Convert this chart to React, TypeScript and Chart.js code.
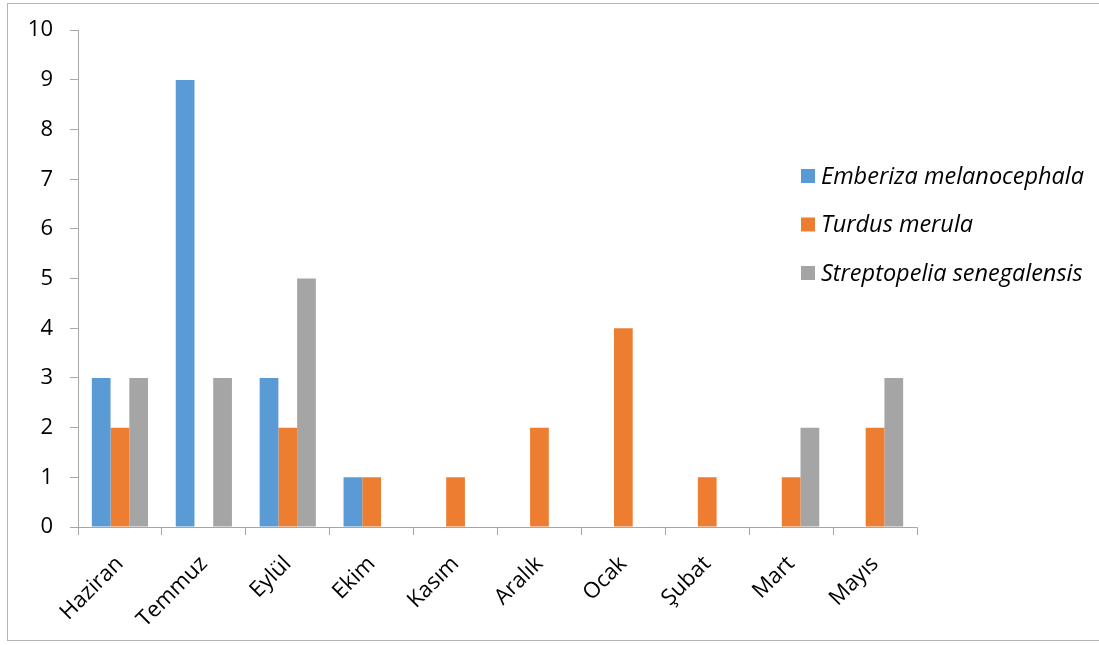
import React, { useEffect, useRef } from "react";
import { Chart, registerables } from "chart.js";

Chart.register(...registerables);

const months = ["Haziran", "Temmuz", "Eylül", "Ekim", "Kasım", "Aralık", "Ocak", "Şubat", "Mart", "Mayıs"];
const seriesNames = ["Emberiza melanocephala", "Turdus merula", "Streptopelia senegalensis"];
const emberiza = [3, 9, 3, 1, 0, 0, 0, 0, 0, 0];
const turdus = [2, 0, 2, 1, 1, 2, 4, 1, 1, 2];
const streptopelia = [3, 3, 5, 0, 0, 0, 0, 0, 2, 3];
const colors = ["#5b9bd5", "#ed7d31", "#a5a5a5"];

const FONT = "'Open Sans', 'Noto Sans', sans-serif";
const AXIS_GRAY = "#a6a6a6";

// Vertical legend on the right, drawn from the chart's datasets
const sideLegend = {
  id: "sideLegend",
  afterDraw(chart: any) {
    const ctx = chart.ctx;
    ctx.save();
    ctx.font = `italic 23.5px ${FONT}`;
    ctx.textBaseline = "middle";
    ctx.textAlign = "left";
    chart.data.datasets.forEach((ds: any, i: number) => {
      const cy = 176 + i * 48.5;
      ctx.fillStyle = ds.backgroundColor;
      ctx.fillRect(801, cy - 7, 14, 14);
      ctx.fillStyle = "#000";
      ctx.fillText(ds.label, 821, cy + 1);
    });
    ctx.restore();
  },
};

export default function App() {
  const ref = useRef<HTMLCanvasElement>(null);

  useEffect(() => {
    if (!ref.current) return;
    const chart = new Chart(ref.current, {
      type: "bar",
      data: {
        labels: months,
        datasets: [emberiza, turdus, streptopelia].map((d, i) => ({
          label: seriesNames[i],
          data: d,
          backgroundColor: colors[i],
          categoryPercentage: 0.67,
          barPercentage: 1.0,
        })),
      },
      options: {
        responsive: false,
        animation: false,
        layout: { padding: { top: 30, left: 0, right: 182, bottom: 0 } },
        plugins: {
          legend: { display: false },
          tooltip: { enabled: false },
        },
        scales: {
          x: {
            grid: {
              offset: true,
              drawOnChartArea: false,
              drawTicks: true,
              tickLength: 8,
              color: AXIS_GRAY,
            },
            border: { color: AXIS_GRAY, width: 1 },
            ticks: {
              minRotation: 45,
              maxRotation: 45,
              padding: 16,
              color: "#000",
              font: { family: FONT, size: 22 },
            },
            afterFit(scale: any) {
              scale.height = 118;
            },
          },
          y: {
            min: 0,
            max: 10,
            grid: {
              drawOnChartArea: false,
              drawTicks: true,
              tickLength: 8,
              color: AXIS_GRAY,
            },
            border: { color: AXIS_GRAY, width: 1 },
            ticks: {
              stepSize: 1,
              padding: 17,
              color: "#000",
              font: { family: FONT, size: 22 },
            },
            afterFit(scale: any) {
              scale.width = 78;
            },
          },
        },
      },
      plugins: [sideLegend],
    });
    return () => chart.destroy();
  }, []);

  return (
    <div style={{ position: "absolute", left: 0, top: 0, width: 1099, height: 645, background: "#fff", overflow: "hidden" }}>
      <div
        style={{
          position: "absolute",
          left: 7,
          top: 3,
          width: 1100,
          height: 638,
          borderTop: "1px solid #b4b4b4",
          borderLeft: "1px solid #b4b4b4",
          borderBottom: "1px solid #b4b4b4",
          boxSizing: "border-box",
        }}
      />
      <canvas ref={ref} width={1099} height={645} style={{ position: "absolute", left: 0, top: 0 }} />
    </div>
  );
}
